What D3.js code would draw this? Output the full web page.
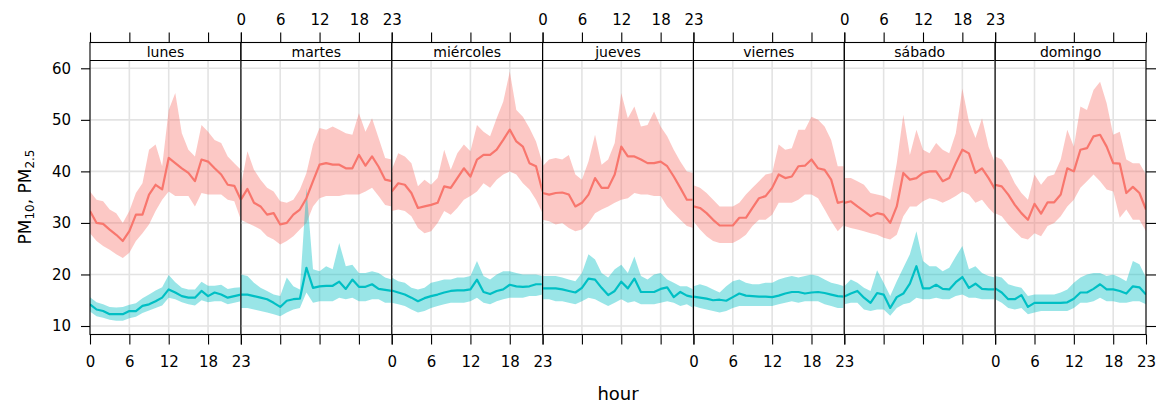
<!DOCTYPE html>
<html><head><meta charset="utf-8">
<script src="https://cdn.jsdelivr.net/npm/d3@7"></script>
<style>body{margin:0;background:#fff} svg{display:block} text{font-family:"DejaVu Sans",Verdana,sans-serif;fill:#000}</style>
</head><body><svg id="c" width="1158" height="403"></svg>
<script>
const days = ["lunes","martes","miércoles","jueves","viernes","sábado","domingo"];
const hours = [0,1,2,3,4,5,6,7,8,9,10,11,12,13,14,15,16,17,18,19,20,21,22,23];
const hourTicks = [0,6,12,18,23];
const yTicks = [10,20,30,40,50,60];

const pm10Mean = [
 [32.3,30.0,29.8,28.7,27.7,26.5,28.4,31.6,31.6,35.5,37.4,36.5,42.6,41.6,40.6,39.7,38.1,42.3,41.9,40.6,39.4,37.4,37.2,34.5],
 [34.5,36.6,33.9,33.2,31.6,31.9,29.7,30.0,31.6,32.6,34.8,38.1,41.3,41.6,41.3,41.3,40.6,40.6,43.2,41.1,42.9,40.9,38.4,38.1],
 [36.1,37.7,37.4,35.8,32.9,33.2,33.5,33.9,37.1,36.8,38.7,40.6,39.0,42.3,43.2,43.2,44.2,46.1,48.1,45.8,44.8,41.6,41.0,36.1],
 [35.8,35.5,35.8,35.9,35.5,33.2,33.9,35.5,38.7,36.8,36.8,39.4,44.8,42.9,42.9,42.3,41.6,41.6,41.9,41.0,39.0,36.8,34.5,34.5],
 [33.2,32.9,31.9,30.6,29.5,29.5,29.5,31.0,31.0,32.9,34.8,35.2,36.8,39.4,38.7,39.0,41.0,41.1,42.3,40.6,40.3,38.4,33.9,34.2],
 [33.9,34.2,33.2,32.3,31.3,31.9,31.6,30.0,33.2,39.7,38.4,38.7,39.7,40.0,40.0,38.1,38.7,41.6,44.2,43.5,39.7,40.6,38.7,36.5],
 [37.4,37.1,35.5,33.5,31.9,30.6,33.7,31.8,34.0,34.0,35.5,40.6,40.0,44.2,44.5,46.8,47.1,44.8,41.6,41.5,35.8,37.0,35.8,32.6]
];
const pm10Upper = [
 [36.1,34.5,34.2,32.6,31.9,30.0,32.3,35.8,37.7,44.2,45.2,41.0,51.9,55.2,47.4,44.2,42.9,49.0,47.7,46.1,45.5,42.9,41.6,40.3],
 [37.1,43.9,40.3,38.4,36.8,36.1,34.2,33.9,34.5,36.5,39.7,45.2,48.4,48.1,48.7,48.1,47.4,47.1,51.3,47.7,50.3,46.5,42.6,42.3],
 [40.3,43.5,42.9,41.6,37.1,38.4,37.4,38.7,44.2,40.3,43.5,45.2,43.9,49.0,47.7,46.8,50.3,53.5,59.4,51.9,50.6,48.4,45.8,41.6],
 [41.0,42.3,42.6,42.3,43.2,39.4,38.4,41.9,47.1,41.3,42.3,45.5,55.2,50.3,52.6,48.7,49.0,51.6,48.7,46.8,44.2,41.9,40.0,39.7],
 [37.3,36.8,35.8,34.5,33.2,33.2,33.2,33.9,35.5,36.8,38.1,39.4,39.7,45.2,44.2,44.5,48.1,48.1,50.6,50.0,48.7,46.1,41.0,41.0],
 [38.7,38.7,38.1,37.4,35.8,35.5,35.2,34.5,41.6,51.0,43.2,48.1,44.2,43.5,45.5,44.2,43.5,47.4,56.1,49.7,46.5,50.3,44.8,41.6],
 [42.9,42.3,40.3,37.7,35.8,34.5,39.4,37.4,39.0,39.4,42.3,48.1,44.8,52.6,51.9,55.8,57.4,53.2,47.1,47.7,42.3,41.6,41.6,39.4]
];
const pm10Lower = [
 [28.0,26.5,25.5,24.8,23.9,23.2,24.2,26.5,28.0,29.7,32.3,34.5,36.1,35.2,35.2,35.2,33.2,35.8,35.5,35.5,35.5,34.5,34.2,30.6],
 [30.6,30.0,29.4,28.7,27.4,26.8,25.8,26.5,27.4,28.7,30.0,33.2,34.8,35.2,35.2,35.2,35.5,35.5,35.5,36.1,36.8,35.2,33.5,33.2],
 [32.3,32.6,32.3,31.3,29.0,28.0,28.4,30.0,32.3,31.6,32.9,34.5,35.2,36.1,37.7,36.8,38.4,39.4,40.0,39.4,37.7,36.5,34.5,31.9],
 [30.6,30.3,29.7,30.0,29.0,28.4,28.7,30.0,31.9,32.6,33.2,33.9,34.5,34.8,35.8,35.5,35.5,35.2,35.2,33.2,31.9,30.6,29.4,29.0],
 [30.3,28.7,27.4,26.5,26.1,26.1,26.1,26.8,27.7,29.4,30.6,30.6,31.6,33.9,33.9,33.9,34.5,35.5,35.5,34.8,32.6,30.3,28.4,29.7],
 [29.4,29.0,28.7,28.4,28.0,27.7,27.1,26.8,27.7,31.3,33.2,33.2,34.2,34.8,34.5,33.9,34.5,35.2,36.1,35.5,33.9,34.5,32.9,31.6],
 [31.9,31.3,29.7,28.4,27.1,26.8,28.0,27.4,29.4,30.0,31.3,33.2,34.5,36.8,38.1,39.4,38.1,36.5,36.1,31.0,32.6,30.6,30.6,28.4]
];
const pm25Mean = [
 [14.2,13.2,12.9,12.3,12.3,12.3,12.9,12.9,13.9,14.2,14.8,15.5,17.1,16.5,15.8,15.5,15.5,16.8,15.8,16.5,16.1,15.5,15.8,16.1],
 [16.1,16.1,15.8,15.5,15.2,14.5,13.7,14.9,15.2,15.3,21.3,17.4,17.7,17.8,17.8,18.6,17.2,19.0,17.6,17.6,18.1,17.2,17.0,16.8],
 [16.9,16.5,16.1,15.5,14.8,15.4,15.8,16.1,16.5,16.8,16.9,16.9,17.1,19.0,16.6,16.2,16.8,17.1,18.0,17.7,17.6,17.7,18.1,18.1],
 [17.3,17.3,17.3,17.1,16.8,16.5,17.4,19.2,19.0,17.4,16.0,16.8,18.6,17.3,19.2,16.6,16.6,16.6,17.2,17.5,15.6,16.6,15.9,15.6],
 [15.7,15.5,15.3,15.0,15.1,14.9,15.6,16.3,15.9,15.8,15.7,15.7,15.6,15.9,16.3,16.6,16.6,16.3,16.5,16.6,16.4,16.1,15.8,15.7],
 [15.7,16.3,16.8,15.5,14.5,16.4,16.1,13.5,15.6,16.3,18.2,21.6,17.3,17.3,18.0,17.2,17.1,18.5,19.5,17.4,18.2,17.2,17.1,17.1],
 [17.3,16.5,15.2,15.2,16.0,13.7,14.5,14.5,14.5,14.5,14.5,14.6,15.3,16.5,16.5,17.2,18.1,17.1,17.1,16.8,16.3,17.7,17.5,16.1]
];
const pm25Upper = [
 [15.6,14.6,14.2,13.7,13.6,13.7,14.1,14.4,15.4,16.1,16.9,17.5,19.9,18.5,17.4,17.1,17.1,18.6,17.8,17.8,18.0,17.2,17.4,17.5],
 [20.0,19.7,18.4,17.4,16.8,16.1,15.8,19.4,17.7,17.1,36.8,21.0,20.6,21.6,21.0,26.1,21.6,21.9,20.3,20.3,20.6,20.3,19.4,19.0],
 [19.4,18.7,18.4,17.4,17.1,17.4,18.4,18.7,19.0,19.0,19.4,19.4,19.7,22.6,19.7,19.0,20.0,20.6,20.6,20.3,20.0,20.0,20.0,19.7],
 [19.7,19.7,19.7,19.4,19.0,18.7,20.3,23.9,22.9,20.3,19.4,21.0,21.9,20.3,23.5,19.7,19.0,20.0,20.3,19.0,18.4,17.7,17.7,17.1],
 [17.7,18.1,17.7,17.1,16.5,17.7,18.7,19.0,18.4,18.1,18.1,18.4,18.4,19.0,19.4,19.7,19.4,19.7,20.0,19.7,19.0,18.4,18.1,17.7],
 [17.7,19.0,18.4,17.4,16.8,20.8,18.4,15.8,18.7,21.3,23.9,28.4,22.6,21.6,21.6,20.6,21.3,23.5,25.5,21.0,21.6,20.3,19.7,19.4],
 [19.7,19.4,18.1,17.7,17.4,15.8,16.1,16.1,16.1,16.1,16.5,17.1,18.4,19.4,20.0,20.3,20.3,19.7,20.0,19.4,18.7,22.6,22.0,19.4]
];
const pm25Lower = [
 [12.8,11.9,11.6,11.2,11.0,11.0,11.5,11.8,12.5,13.0,13.5,14.0,15.5,15.2,14.6,14.2,14.0,15.0,14.6,14.8,14.8,14.2,14.5,14.8],
 [13.5,13.5,13.2,12.9,12.6,12.3,11.9,12.6,13.2,13.5,16.5,14.5,14.8,14.8,14.8,15.5,15.2,15.5,14.8,14.8,15.2,15.2,14.5,14.5],
 [14.5,14.2,13.9,13.2,12.6,12.9,13.5,13.9,14.2,14.5,14.5,14.5,14.8,15.5,14.5,14.2,14.8,15.2,15.5,15.5,15.5,15.8,15.8,16.1],
 [15.2,15.2,14.8,14.8,14.5,14.2,14.8,15.5,15.2,14.5,13.9,14.5,15.2,14.5,14.8,14.2,14.2,14.2,14.5,14.8,14.5,13.9,14.2,13.5],
 [13.9,13.5,13.2,12.9,12.6,12.9,13.5,13.9,13.9,13.9,13.9,13.9,13.9,14.2,14.5,14.8,14.5,14.8,14.8,14.8,14.2,13.9,13.5,13.5],
 [14.2,14.5,14.5,13.2,12.9,13.2,13.2,12.0,13.5,14.2,14.5,15.5,15.2,15.2,15.5,15.2,15.2,15.8,16.1,15.5,15.5,15.2,15.2,15.2],
 [15.2,14.5,13.5,13.2,13.5,12.3,12.6,12.9,12.9,12.9,12.9,12.9,13.5,14.5,14.5,14.8,15.5,14.8,14.8,14.5,14.5,14.8,14.8,14.2]
];
const seriesColors = ["#F8766D","#00BFC4"];

const svg = d3.select("#c");
const L = 90, R = 1146, T = 60.5, B = 334.5, ST = 42.5;
const pw = (R - L) / 7;
const y = d3.scaleLinear().domain([10, 60]).range([326, 68.3]);

const series = [
  {mean: pm10Mean, lo: pm10Lower, hi: pm10Upper, color: seriesColors[0]},
  {mean: pm25Mean, lo: pm25Lower, hi: pm25Upper, color: seriesColors[1]}
];

days.forEach((day, i) => {
  const x0 = L + i * pw, x1 = L + (i + 1) * pw;
  const x = d3.scaleLinear().domain([hours[0], hours[hours.length - 1]]).range([x0, x1]);
  const g = svg.append("g");
  const cid = "clip" + i;
  svg.append("clipPath").attr("id", cid).append("rect")
    .attr("x", x0).attr("y", T).attr("width", pw).attr("height", B - T);

  g.selectAll(".vg").data(hourTicks).join("line")
    .attr("x1", d => x(d)).attr("x2", d => x(d)).attr("y1", T).attr("y2", B)
    .attr("stroke", "#e3e3e3").attr("stroke-width", 1.6);
  g.selectAll(".hg").data(yTicks).join("line")
    .attr("x1", x0).attr("x2", x1).attr("y1", d => y(d)).attr("y2", d => y(d))
    .attr("stroke", "#e3e3e3").attr("stroke-width", 1.6);

  const pg = g.append("g").attr("clip-path", `url(#${cid})`);
  series.forEach(s => {
    const area = d3.area().x((d, k) => x(hours[k])).y0((d, k) => y(s.lo[i][k])).y1((d, k) => y(s.hi[i][k]));
    pg.append("path").datum(s.mean[i]).attr("d", area).attr("fill", s.color).attr("fill-opacity", 0.4);
  });
  series.forEach(s => {
    const line = d3.line().x((d, k) => x(hours[k])).y(d => y(d));
    pg.append("path").datum(s.mean[i]).attr("d", line).attr("fill", "none")
      .attr("stroke", s.color).attr("stroke-width", 2.2).attr("stroke-linejoin", "round");
  });

  g.append("rect").attr("x", x0).attr("y", ST).attr("width", pw).attr("height", B - ST)
    .attr("fill", "none").attr("stroke", "#000").attr("stroke-width", 1.1);
  g.append("line").attr("x1", x0).attr("x2", x1).attr("y1", T).attr("y2", T)
    .attr("stroke", "#000").attr("stroke-width", 1.1);
  g.append("text").attr("x", (x0 + x1) / 2).attr("y", 57.3).attr("text-anchor", "middle")
    .style("font-size", "14px").text(day);

  const bAx = svg.append("g").attr("transform", `translate(0,${B})`)
    .call(d3.axisBottom(x).tickValues(hourTicks).tickSize(10).tickPadding(12)
      .tickFormat(i % 2 === 0 ? d3.format("d") : () => ""));
  const tAx = svg.append("g").attr("transform", `translate(0,${ST})`)
    .call(d3.axisTop(x).tickValues(hourTicks).tickSize(10).tickPadding(7.5)
      .tickFormat(i % 2 === 1 ? d3.format("d") : () => ""));
  [bAx, tAx].forEach(a => {
    a.select(".domain").remove();
    a.selectAll("line").attr("stroke", "#000").attr("stroke-width", 1.1);
    a.selectAll("text").style("font-size", "15px").attr("fill", "#000")
      .style("font-family", "'DejaVu Sans',Verdana,sans-serif");
  });
});

const lAx = svg.append("g").attr("transform", `translate(${L},0)`)
  .call(d3.axisLeft(y).tickValues(yTicks).tickSize(9).tickPadding(10));
const rAx = svg.append("g").attr("transform", `translate(${R},0)`)
  .call(d3.axisRight(y).tickValues(yTicks).tickSize(10).tickFormat(() => ""));
[lAx, rAx].forEach(a => {
  a.select(".domain").remove();
  a.selectAll("line").attr("stroke", "#000").attr("stroke-width", 1.1);
  a.selectAll("text").style("font-size", "15px").attr("fill", "#000")
    .style("font-family", "'DejaVu Sans',Verdana,sans-serif");
});

svg.append("text").attr("x", (L + R) / 2).attr("y", 400).attr("text-anchor", "middle")
  .style("font-size", "18px").text("hour");

const yl = svg.append("text").attr("transform", "translate(31,197) rotate(-90)")
  .attr("text-anchor", "middle").style("font-size", "17px");
yl.append("tspan").text("PM");
yl.append("tspan").attr("baseline-shift", "-25%").style("font-size", "12px").text("10");
yl.append("tspan").text(", PM");
yl.append("tspan").attr("baseline-shift", "-25%").style("font-size", "12px").text("2.5");
</script></body></html>
